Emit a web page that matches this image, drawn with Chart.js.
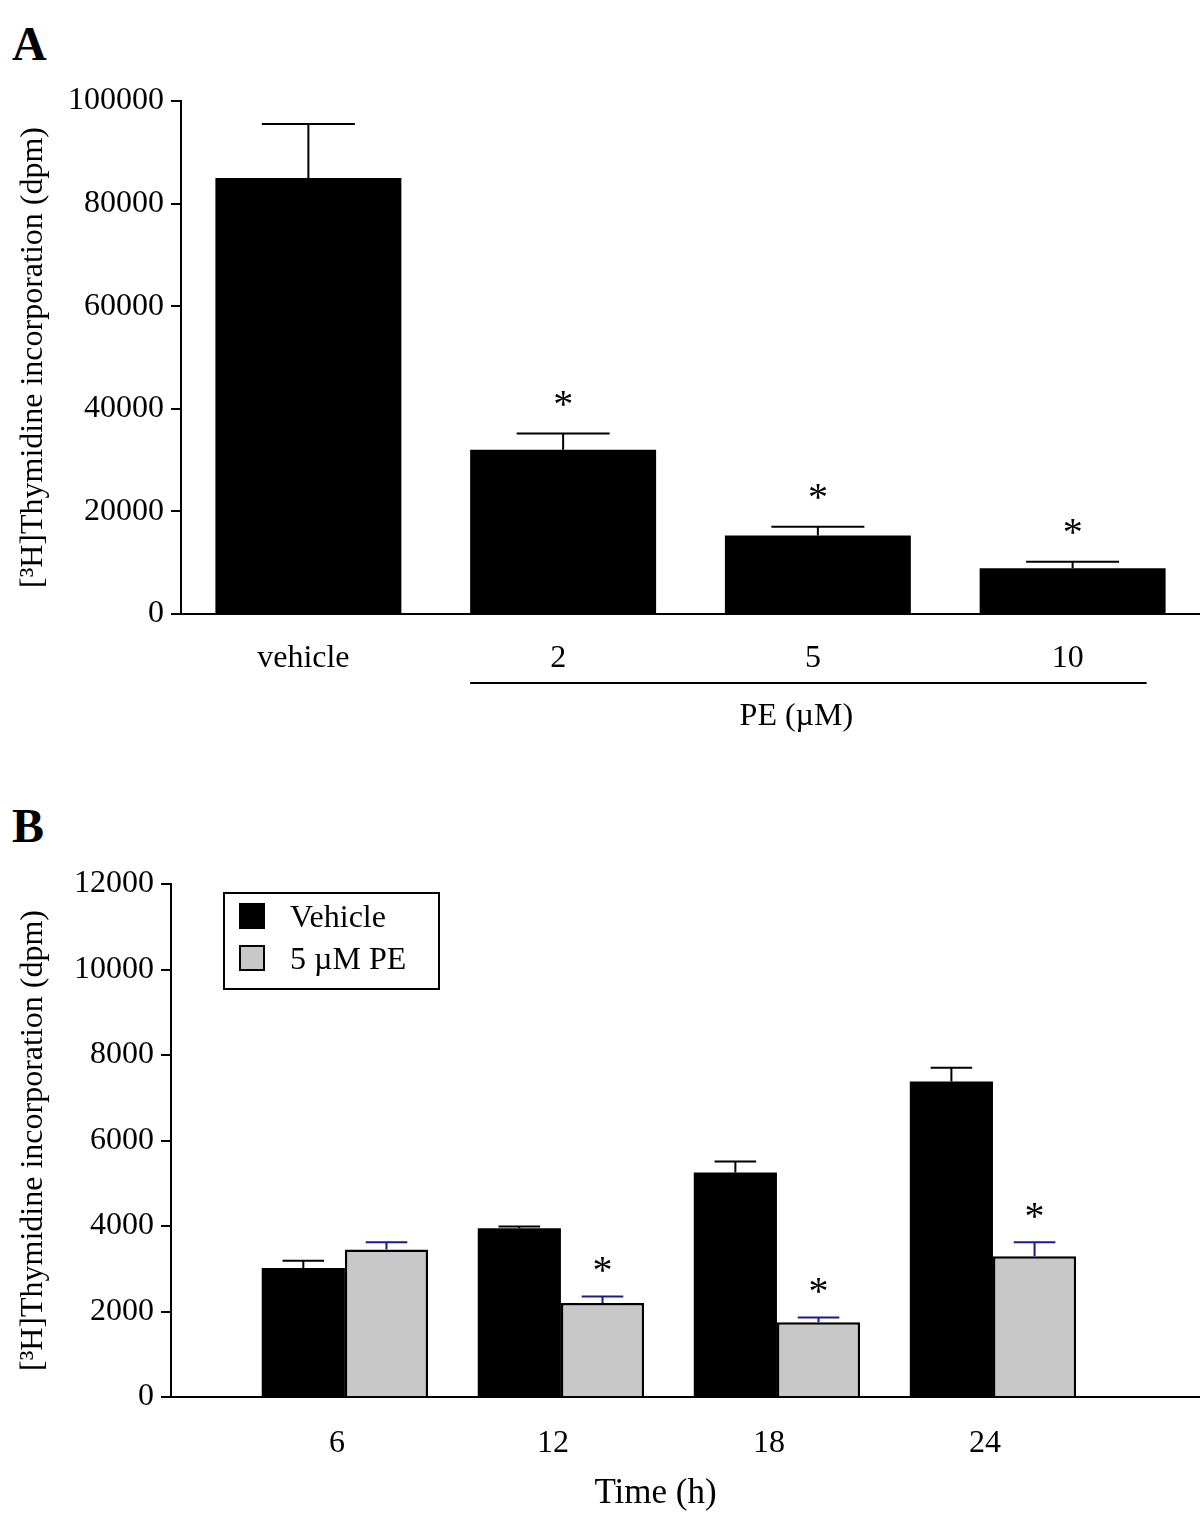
<!DOCTYPE html>
<html>
<head>
<meta charset="utf-8">
<script src="https://cdn.jsdelivr.net/npm/chart.js@4/dist/chart.umd.min.js"></script>
<style>
  body { margin: 0; background: #fff; }
  .panel { position: absolute; left: 0; }
  .letter { position: absolute; left: 12px; font: bold 48px 'Liberation Serif', serif; color: #000; }
</style>
</head>
<body>
<div class="letter" style="top:16px">A</div>
<div class="letter" style="top:798px">B</div>
<canvas id="chartA" class="panel" style="top:0" width="1200" height="780"></canvas>
<canvas id="chartB" class="panel" style="top:780px" width="1200" height="744"></canvas>
<script>
// panel A data
const doseLabels = ['vehicle', '2', '5', '10'];
const doseMeans = [85000, 32000, 15300, 8900];
const doseErrors = [10500, 3200, 1700, 1300];
const doseStars = [false, true, true, true];

// panel B data
const hours = [6, 12, 18, 24];
const vehicleMeans = [3020, 3950, 5250, 7380];
const vehicleErrors = [170, 40, 260, 320];
const peMeans = [3450, 2200, 1750, 3290];
const peErrors = [170, 150, 110, 330];
const peStars = [false, true, true, true];

const yTitle = '[³H]Thymidine incorporation (dpm)';
const serif = "'Liberation Serif', 'Times New Roman', serif";

Chart.defaults.font.family = serif;
Chart.defaults.font.size = 32;
Chart.defaults.color = '#000';

// error bars + significance stars, drawn from the y scale
const errorBars = {
    id: 'errorBars',
    afterDatasetsDraw(chart) {
        const ctx = chart.ctx;
        const y = chart.scales.y;
        chart.data.datasets.forEach(function (ds, i) {
            const meta = chart.getDatasetMeta(i);
            meta.data.forEach(function (bar, j) {
                const top = y.getPixelForValue(ds.data[j] + ds.errors[j]);
                const half = bar.width / 4;
                ctx.save();
                ctx.strokeStyle = ds.errColor;
                ctx.lineWidth = 2;
                ctx.beginPath();
                ctx.moveTo(bar.x, bar.y);
                ctx.lineTo(bar.x, top);
                ctx.moveTo(bar.x - half, top);
                ctx.lineTo(bar.x + half, top);
                ctx.stroke();
                if (ds.stars && ds.stars[j]) {
                    ctx.fillStyle = '#000';
                    ctx.font = '40px ' + serif;
                    ctx.textAlign = 'center';
                    ctx.textBaseline = 'middle';
                    ctx.fillText('*', bar.x, top - ds.starGap);
                }
                ctx.restore();
            });
        });
    }
};

function yScale(max, step, width) {
    return {
        min: 0, max: max,
        ticks: { stepSize: step, padding: 7, callback: v => String(v) },
        grid: { drawOnChartArea: false, drawTicks: true, tickLength: 10, color: '#000', lineWidth: 2 },
        border: { display: true, color: '#000', width: 2 },
        title: { display: true, text: yTitle, padding: { top: 14, bottom: 0 } },
        afterFit(s) { s.width = width; }
    };
}

// A
new Chart(document.getElementById('chartA'), {
    type: 'bar',
    data: {
        labels: doseLabels,
        datasets: [{
            data: doseMeans,
            errors: doseErrors,
            stars: doseStars,
            starGap: 27,
            errColor: '#000',
            backgroundColor: '#000',
            barPercentage: 0.73,
            categoryPercentage: 1
        }]
    },
    options: {
        responsive: false,
        animation: false,
        layout: { padding: { top: 101, right: 0, left: 0, bottom: 0 } },
        plugins: { legend: { display: false }, tooltip: { enabled: false } },
        scales: {
            x: {
                grid: { display: false, drawTicks: false },
                border: { display: true, color: '#000', width: 2 },
                ticks: { padding: 25, labelOffset: -5 },
                afterFit(s) { s.height = 780 - 614; }
            },
            y: yScale(100000, 20000, 181)
        }
    },
    plugins: [errorBars, {
        id: 'peBracket',
        afterDraw(chart) {
            const ctx = chart.ctx;
            const bars = chart.getDatasetMeta(0).data;
            const x1 = bars[1].x - bars[1].width / 2;
            const x2 = bars[3].x + bars[3].width / 2 - 19;
            const yb = chart.chartArea.bottom + 69;
            ctx.save();
            ctx.strokeStyle = '#000';
            ctx.lineWidth = 2;
            ctx.beginPath();
            ctx.moveTo(x1, yb);
            ctx.lineTo(x2, yb);
            ctx.stroke();
            ctx.fillStyle = '#000';
            ctx.font = '32px ' + serif;
            ctx.textAlign = 'center';
            ctx.textBaseline = 'middle';
            ctx.fillText('PE (µM)', (x1 + x2) / 2 - 12, yb + 34);
            ctx.restore();
        }
    }]
});

// B
new Chart(document.getElementById('chartB'), {
    type: 'bar',
    data: {
        labels: hours,
        datasets: [{
            label: 'Vehicle',
            data: vehicleMeans,
            errors: vehicleErrors,
            errColor: '#000',
            backgroundColor: '#000',
            borderColor: '#000',
            borderWidth: 0
        }, {
            label: '5 µM PE',
            data: peMeans,
            errors: peErrors,
            stars: peStars,
            starGap: 24,
            errColor: '#1b1b8f',
            backgroundColor: '#c8c8c8',
            borderColor: '#000',
            borderWidth: 2.5
        }]
    },
    options: {
        responsive: false,
        animation: false,
        categoryPercentage: 0.77,
        barPercentage: 1,
        layout: { padding: { top: 104, right: 0, left: 0, bottom: 0 } },
        plugins: { legend: { display: false }, tooltip: { enabled: false } },
        scales: {
            x: {
                type: 'linear',
                min: 1.17, max: 29.75,
                offset: false,
                grid: { display: false, drawTicks: false, offset: false },
                border: { display: true, color: '#000', width: 2 },
                ticks: { padding: 27, labelOffset: -8, callback: v => String(v) },
                afterBuildTicks(s) { s.ticks = hours.map(h => ({ value: h })); },
                afterFit(s) { s.height = 744 - 617; }
            },
            y: yScale(12000, 2000, 171)
        }
    },
    plugins: [errorBars, {
        id: 'boxLegend',
        afterDraw(chart) {
            const ctx = chart.ctx;
            const a = chart.chartArea;
            const bx = a.left + 53, by = a.top + 9;
            ctx.save();
            ctx.strokeStyle = '#000';
            ctx.lineWidth = 2;
            ctx.strokeRect(bx, by, 215, 96);
            ctx.font = '32px ' + serif;
            ctx.textBaseline = 'middle';
            chart.data.datasets.forEach(function (ds, i) {
                const ry = by + 11 + i * 42;
                ctx.fillStyle = ds.backgroundColor;
                ctx.fillRect(bx + 16, ry, 24, 24);
                ctx.strokeRect(bx + 16, ry, 24, 24);
                ctx.fillStyle = '#000';
                ctx.fillText(ds.label, bx + 66, ry + 15);
            });
            // x axis title
            ctx.font = '35px ' + serif;
            ctx.textAlign = 'center';
            ctx.fillText('Time (h)', (a.left + a.right) / 2 - 30, a.bottom + 97);
            ctx.restore();
        }
    }]
});
</script>
</body>
</html>
